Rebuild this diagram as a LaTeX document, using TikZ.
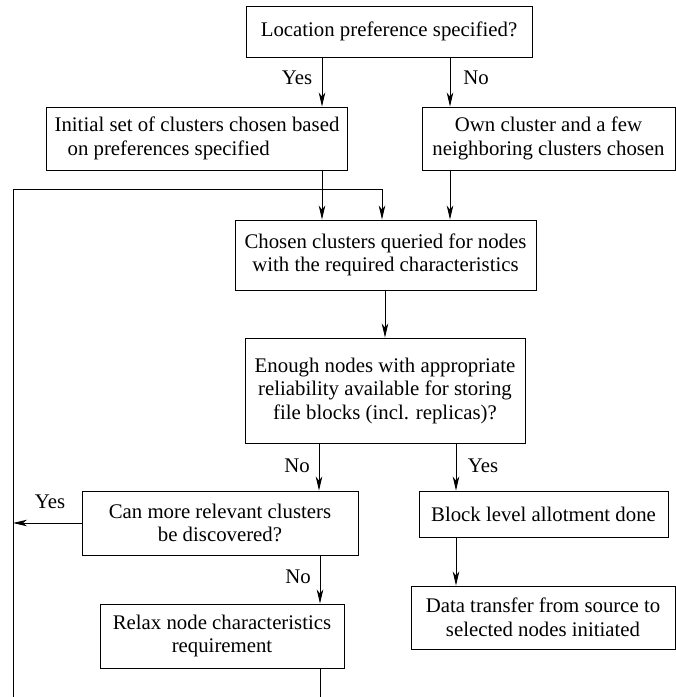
\documentclass[tikz,border=0pt]{standalone}
\usepackage{fontspec}
\setmainfont{Liberation Serif}
\usetikzlibrary{arrows.meta}
\begin{document}
\begin{tikzpicture}[x=1pt,y=-1pt,
  font=\fontsize{20.8}{23.5}\selectfont,
  box/.style={draw, line width=0.9pt, inner sep=0pt, align=center},
  lbl/.style={inner sep=0pt},
  ln/.style={line width=0.9pt},
  arr/.style={line width=0.9pt, -{Stealth[length=14pt,width=6.5pt,inset=4pt]}}]
\useasboundingbox (0,0) rectangle (676,697);
% boxes
\node[box, minimum width=286pt, minimum height=51pt] (loc) at (389,31.5) {Location preference specified?};
\node[box, minimum width=301pt, minimum height=63pt, align=left] (init) at (197,138.5) {Initial set of clusters chosen based\\\hspace{13pt}on preferences specified};
\node[box, minimum width=253pt, minimum height=63pt] (own) at (548.5,138.5) {Own cluster and a few\\neighboring clusters chosen};
\node[box, minimum width=301pt, minimum height=70pt] (chosen) at (385.5,255) {Chosen clusters queried for nodes\\with the required characteristics};
\node[box, minimum width=280pt, minimum height=105pt] (enough) at (385,390.5) {Enough nodes with appropriate\\reliability available for storing\\file blocks (incl. replicas)?};
\node[box, minimum width=276pt, minimum height=64pt] (can) at (220,523) {Can more relevant clusters\\be discovered?};
\node[box, minimum width=249pt, minimum height=46pt] (block) at (543.5,514) {Block level allotment done};
\node[box, minimum width=264pt, minimum height=63pt] (data) at (543,617.5) {Data transfer from source to\\selected nodes initiated};
\node[box, minimum width=244pt, minimum height=64pt] (relax) at (222,636) {Relax node characteristics\\requirement};
% labels
\node[lbl] (yes1) at (297,78) {Yes};
\node[lbl] (no1) at (476,78) {No};
\node[lbl] (no2) at (297,466) {No};
\node[lbl] (yes2) at (483,466) {Yes};
\node[lbl] (yes3) at (50,502) {Yes};
\node[lbl] (no3) at (298,577) {No};
% helper coordinates
\coordinate (c322) at (322,0);
\coordinate (c450) at (450,0);
\coordinate (c382) at (382,0);
\coordinate (c385) at (385,0);
\coordinate (c319) at (319,0);
\coordinate (c456) at (456,0);
\coordinate (c320) at (320,0);
\coordinate (fbtop) at (13,189);
\coordinate (fbbot) at (13,697);
\coordinate (relaxend) at (320,697);
% connectors
\draw[arr] (loc.south -| c322) -- (init.north -| c322);
\draw[arr] (loc.south -| c450) -- (own.north -| c450);
\draw[arr] (init.south -| c322) -- (chosen.north -| c322);
\draw[arr] (own.south -| c450) -- (chosen.north -| c450);
\draw[arr] (fbbot) -- (fbtop) -- (fbtop -| c382) -- (chosen.north -| c382);
\draw[arr] (chosen.south -| c385) -- (enough.north -| c385);
\draw[arr] (enough.south -| c319) -- (can.north -| c319);
\draw[arr] (enough.south -| c456) -- (block.north -| c456);
\draw[arr] (can.west) -- (can.west -| fbbot);
\draw[arr] (block.south -| c456) -- (data.north -| c456);
\draw[arr] (can.south -| c320) -- (relax.north -| c320);
\draw[ln] (relax.south -| c320) -- (relaxend);
\end{tikzpicture}
\end{document}
